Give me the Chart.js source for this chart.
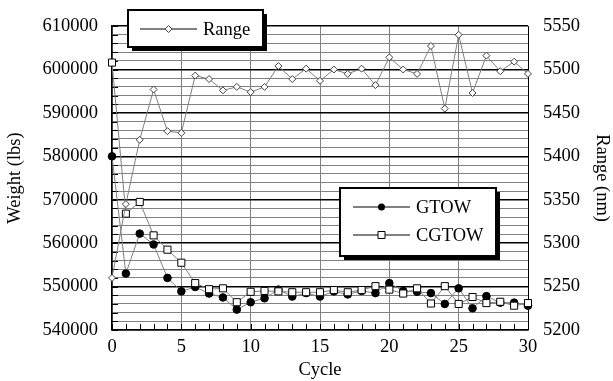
<!DOCTYPE html>
<html>
<head>
<meta charset="utf-8">
<script src="https://cdn.jsdelivr.net/npm/chart.js@4.4.1/dist/chart.umd.min.js"></script>
<style>
    body { margin: 0; background: #fff; }
</style>
</head>
<body>
<canvas id="grafico" width="613" height="381"></canvas>
<script>
const ciclos = [0, 1, 2, 3, 4, 5, 6, 7, 8, 9, 10, 11, 12, 13, 14, 15, 16, 17, 18, 19, 20, 21, 22, 23, 24, 25, 26, 27, 28, 29, 30]
const range = [5260, 5345, 5419, 5477, 5429, 5427, 5493, 5489, 5476, 5480, 5474, 5480, 5504, 5489, 5501, 5487,
    5500, 5495, 5501, 5482, 5514, 5500, 5495, 5527, 5455, 5540, 5473, 5516, 5498, 5509, 5495]
const gtow = [580000, 553000, 562200, 559700, 552000, 548900, 549900, 548400, 547500, 544700, 546400, 547300,
    549300, 547700, 548500, 547700, 548900, 548200, 549000, 548500, 550800, 549000, 548800, 548500, 546000,
    549600, 545000, 547800, 546300, 546300, 545600]
const cgtow = [601600, 566800, 569500, 561800, 558500, 555500, 550800, 549400, 549600, 546400, 548800, 549000,
    548900, 548700, 548700, 548700, 549200, 548700, 549200, 550100, 549300, 548400, 549600, 546100, 550100,
    546000, 547600, 546200, 546500, 545600, 546200]

const fonte = { family: '"Liberation Serif", "Times New Roman", serif', size: 18.5 }

const pontos = (valores) => ciclos.map((c, i) => ({ x: c, y: valores[i] }))

// marcadores usados nas caixas de legenda
function marcador(ctx, tipo, x, y) {
    ctx.save()
    ctx.lineWidth = 1
    ctx.strokeStyle = '#000'
    ctx.beginPath()
    if (tipo === 'circulo') {
        ctx.arc(x, y, 3.5, 0, Math.PI * 2)
        ctx.fillStyle = '#000'
        ctx.fill()
    } else if (tipo === 'quadrado') {
        ctx.rect(x - 3.5, y - 3.5, 7, 7)
        ctx.fillStyle = '#fff'
        ctx.fill()
        ctx.stroke()
    } else {
        ctx.moveTo(x, y - 3.5)
        ctx.lineTo(x + 3.5, y)
        ctx.lineTo(x, y + 3.5)
        ctx.lineTo(x - 3.5, y)
        ctx.closePath()
        ctx.fillStyle = '#fff'
        ctx.fill()
        ctx.strokeStyle = '#404040'
        ctx.stroke()
    }
    ctx.restore()
}

function caixa(ctx, x, y, w, h) {
    ctx.fillStyle = '#000'
    ctx.fillRect(x + 4, y + 4, w, h)
    ctx.fillStyle = '#fff'
    ctx.fillRect(x, y, w, h)
    ctx.lineWidth = 2
    ctx.strokeStyle = '#000'
    ctx.strokeRect(x, y, w, h)
}

function item(ctx, tipo, texto, x, y) {
    ctx.beginPath()
    ctx.lineWidth = 1
    ctx.strokeStyle = '#000'
    ctx.moveTo(x, y)
    ctx.lineTo(x + 57, y)
    ctx.stroke()
    marcador(ctx, tipo, x + 28.5, y)
    ctx.fillStyle = '#000'
    ctx.font = `${fonte.size}px ${fonte.family}`
    ctx.textBaseline = 'middle'
    ctx.fillText(texto, x + 63, y + 1)
}

const legendas = {
    id: 'legendas',
    afterDraw(chart) {
        const ctx = chart.ctx
        ctx.save()
        caixa(ctx, 128, 10, 135, 37)
        item(ctx, 'losango', 'Range', 140, 29)
        caixa(ctx, 340, 188, 156, 68)
        item(ctx, 'circulo', 'GTOW', 353, 207)
        item(ctx, 'quadrado', 'CGTOW', 353, 235)
        ctx.restore()
    }
}

// marcas curtas para dentro nos eixos inferior e esquerdo
const ticksInternos = {
    id: 'ticksInternos',
    beforeDatasetsDraw(chart) {
        const { ctx, chartArea, scales } = chart
        ctx.save()
        ctx.strokeStyle = '#000'
        ctx.lineWidth = 1
        ctx.beginPath()
        scales.x.ticks.forEach((t) => {
            const px = Math.round(scales.x.getPixelForValue(t.value)) + 0.5
            ctx.moveTo(px, chartArea.bottom)
            ctx.lineTo(px, chartArea.bottom - 6)
        })
        scales.y.ticks.forEach((t) => {
            const py = Math.round(scales.y.getPixelForValue(t.value)) + 0.5
            ctx.moveTo(chartArea.left, py)
            ctx.lineTo(chartArea.left + 6, py)
        })
        ctx.stroke()
        ctx.restore()
    }
}

new Chart(document.getElementById('grafico').getContext('2d'), {
    type: 'line',
    data: {
        datasets: [
            {
                label: 'Range',
                data: pontos(range),
                yAxisID: 'y1',
                borderColor: '#808080',
                borderWidth: 1,
                pointStyle: 'rectRot',
                pointRadius: 3.5,
                pointBackgroundColor: '#fff',
                pointBorderColor: '#404040',
                pointBorderWidth: 1,
                clip: false
            },
            {
                label: 'CGTOW',
                data: pontos(cgtow),
                yAxisID: 'y',
                borderColor: '#808080',
                borderWidth: 1,
                pointStyle: 'rect',
                pointRadius: 5,
                pointBackgroundColor: '#fff',
                pointBorderColor: '#000',
                pointBorderWidth: 1,
                clip: false
            },
            {
                label: 'GTOW',
                data: pontos(gtow),
                yAxisID: 'y',
                borderColor: '#808080',
                borderWidth: 1,
                pointStyle: 'circle',
                pointRadius: 3.8,
                pointBackgroundColor: '#000',
                pointBorderColor: '#000',
                pointBorderWidth: 1,
                clip: false
            }
        ]
    },
    options: {
        responsive: false,
        animation: false,
        devicePixelRatio: 1,
        layout: { padding: { top: 20, left: 0, right: 0, bottom: 0 } },
        plugins: {
            legend: { display: false },
            tooltip: { enabled: false }
        },
        scales: {
            x: {
                type: 'linear',
                min: 0,
                max: 30,
                afterFit: (s) => { s.height = 51 },
                ticks: {
                    stepSize: 1,
                    autoSkip: false,
                    maxRotation: 0,
                    padding: 6,
                    color: '#000',
                    font: fonte,
                    callback: (v) => (v % 5 === 0 ? v : '')
                },
                grid: {
                    drawTicks: false,
                    lineWidth: 1,
                    color: (c) => (c.tick.value === 30 ? '#000' : c.tick.value % 5 === 0 ? '#808080' : 'rgba(0,0,0,0)')
                },
                border: { color: '#000', width: 1.5 },
                title: { display: true, text: 'Cycle', color: '#000', font: fonte, padding: 0 }
            },
            y: {
                position: 'left',
                min: 540000,
                max: 610000,
                afterFit: (s) => { s.width = 112 },
                ticks: {
                    stepSize: 2000,
                    autoSkip: false,
                    padding: 14,
                    color: '#000',
                    font: fonte,
                    callback: (v) => (v % 10000 === 0 ? String(v) : '')
                },
                grid: {
                    drawTicks: false,
                    lineWidth: (c) => (c.tick.value % 10000 === 0 ? 1.5 : 1),
                    color: (c) => (c.tick.value % 10000 === 0 ? '#000' : '#808080')
                },
                border: { color: '#000', width: 1.5 },
                title: { display: true, text: 'Weight (lbs)', color: '#000', font: fonte, padding: { top: 4, bottom: 0 } }
            },
            y1: {
                position: 'right',
                min: 5200,
                max: 5550,
                afterFit: (s) => { s.width = 85 },
                ticks: {
                    stepSize: 50,
                    padding: 15,
                    color: '#000',
                    font: fonte,
                    callback: (v) => String(v)
                },
                grid: { drawOnChartArea: false, drawTicks: false },
                border: { display: false },
                title: { display: true, text: 'Range (nm)', color: '#000', font: fonte, padding: { top: 0, bottom: 0 } }
            }
        }
    },
    plugins: [ticksInternos, legendas]
})
</script>
</body>
</html>
